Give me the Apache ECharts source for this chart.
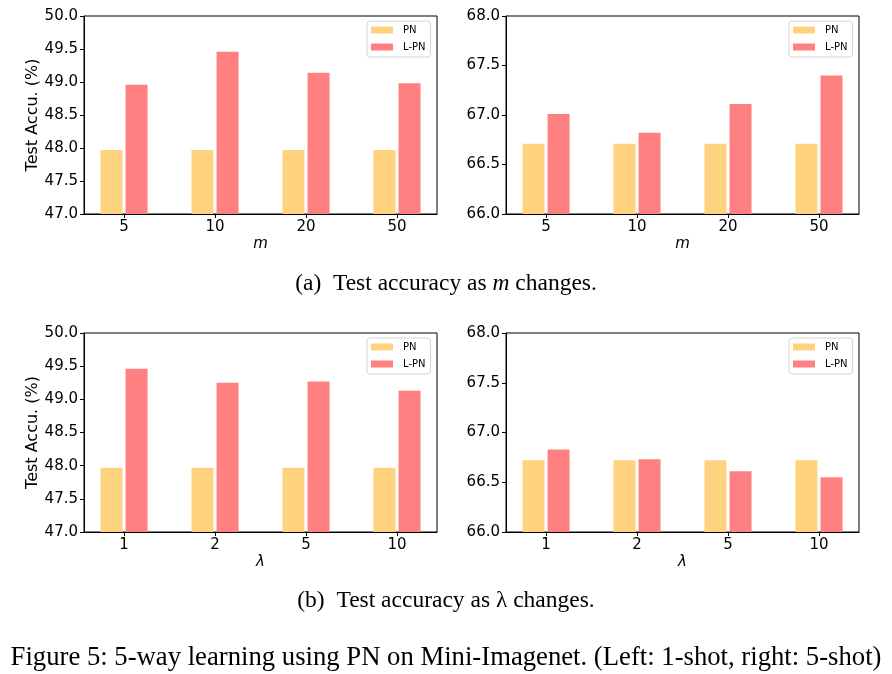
<!DOCTYPE html>
<html>
<head>
<meta charset="utf-8">
<script src="https://cdn.jsdelivr.net/npm/echarts@6/dist/echarts.min.js"></script>
<style>
  html, body { margin: 0; padding: 0; background: #fff; }
  #chart { width: 892px; height: 674px; }
</style>
</head>
<body>
<div id="chart"></div>
<script>
// data
const mCats = ['5', '10', '20', '50']
const lambdaCats = ['1', '2', '5', '10']
const seriesNames = ['PN', 'L-PN']

// (a) m changes
const pnM1shot = [47.97, 47.97, 47.97, 47.97]
const lpnM1shot = [48.96, 49.46, 49.14, 48.98]
const pnM5shot = [66.71, 66.71, 66.71, 66.71]
const lpnM5shot = [67.01, 66.82, 67.11, 67.40]

// (b) lambda changes
const pnL1shot = [47.97, 47.97, 47.97, 47.97]
const lpnL1shot = [49.46, 49.25, 49.27, 49.13]
const pnL5shot = [66.72, 66.72, 66.72, 66.72]
const lpnL5shot = [66.83, 66.73, 66.61, 66.55]

const pnColor = '#ffd280'
const lpnColor = '#ff8080'
const tickFont = 'DejaVu Sans'

var myChart = echarts.init(document.getElementById('chart'))

// panel boxes (pixels)
const panels = [
    { left: 84, top: 16, height: 198, cats: mCats, xname: 'm', ymin: 47, ymax: 50, ylabel: true, pn: pnM1shot, lpn: lpnM1shot },
    { left: 506, top: 16, height: 198, cats: mCats, xname: 'm', ymin: 66, ymax: 68, ylabel: false, pn: pnM5shot, lpn: lpnM5shot },
    { left: 84, top: 333, height: 199, cats: lambdaCats, xname: 'λ', ymin: 47, ymax: 50, ylabel: true, pn: pnL1shot, lpn: lpnL1shot },
    { left: 506, top: 333, height: 199, cats: lambdaCats, xname: 'λ', ymin: 66, ymax: 68, ylabel: false, pn: pnL5shot, lpn: lpnL5shot }
]

const grid = []
const xAxis = []
const yAxis = []
const series = []
const legend = []

panels.forEach((p, i) => {
    grid.push({
        left: p.left, top: p.top, width: 353, height: p.height,
        show: true, borderColor: '#000', borderWidth: 1, backgroundColor: 'transparent'
    })
    xAxis.push({
        type: 'value', gridIndex: i, min: -0.44, max: 3.44, z: 5,
        name: p.xname, nameLocation: 'middle', nameGap: 23,
        nameTextStyle: { fontFamily: tickFont, fontSize: 15, fontStyle: 'italic', color: '#000' },
        splitLine: { show: false },
        axisLine: { show: true, onZero: false, lineStyle: { color: '#000', width: 1 } },
        axisTick: { show: true, inside: false, length: 4, lineStyle: { color: '#000' }, customValues: [0, 1, 2, 3] },
        axisLabel: {
            customValues: [0, 1, 2, 3], margin: 6,
            fontFamily: tickFont, fontSize: 15, color: '#000',
            formatter: v => p.cats[Math.round(v)]
        }
    })
    yAxis.push({
        type: 'value', gridIndex: i, min: p.ymin, max: p.ymax, interval: 0.5, z: 5,
        name: p.ylabel ? 'Test Accu. (%)' : '', nameLocation: 'middle', nameGap: 42,
        nameTextStyle: { fontFamily: tickFont, fontSize: 16, color: '#000' },
        splitLine: { show: false },
        axisLine: { show: true, onZero: false, lineStyle: { color: '#000', width: 1 } },
        axisTick: { show: true, inside: false, length: 4, lineStyle: { color: '#000' } },
        axisLabel: {
            margin: 6, fontFamily: tickFont, fontSize: 15, color: '#000',
            formatter: v => v.toFixed(1)
        }
    })
    series.push({
        name: 'PN', type: 'bar', xAxisIndex: i, yAxisIndex: i,
        barWidth: 22, barGap: '14%', itemStyle: { color: pnColor },
        data: p.pn.map((v, k) => [k, v])
    })
    series.push({
        name: 'L-PN', type: 'bar', xAxisIndex: i, yAxisIndex: i,
        barWidth: 22, barGap: '14%', itemStyle: { color: lpnColor },
        data: p.lpn.map((v, k) => [k, v])
    })
    legend.push({
        data: seriesNames, orient: 'vertical',
        left: p.left + 283, top: p.top + 5,
        icon: 'rect', itemWidth: 22, itemHeight: 7, itemGap: 7,
        padding: [4, 5, 5, 4],
        borderColor: '#d4d4d4', borderWidth: 1, borderRadius: 3,
        backgroundColor: '#fff',
        textStyle: { fontFamily: tickFont, fontSize: 10, color: '#000', padding: [0, 0, 0, 5] }
    })
})

const capStyle = {
    fontFamily: 'Liberation Serif', fontSize: 23.5, fontWeight: 'normal', color: '#000',
    rich: { i: { fontFamily: 'Liberation Serif', fontSize: 23.5, fontStyle: 'italic', color: '#000' } }
}

var option = {
    animation: false,
    color: [pnColor, lpnColor],
    title: [
        { text: '(a)  Test accuracy as {i|m} changes.', left: 'center', top: 267, textStyle: capStyle },
        { text: '(b)  Test accuracy as λ changes.', left: 'center', top: 584, textStyle: capStyle },
        {
            text: 'Figure 5: 5-way learning using PN on Mini-Imagenet. (Left: 1-shot, right: 5-shot)',
            left: 'center', top: 639,
            textStyle: { fontFamily: 'Liberation Serif', fontSize: 26.7, fontWeight: 'normal', color: '#000' }
        }
    ],
    legend: legend,
    grid: grid,
    xAxis: xAxis,
    yAxis: yAxis,
    series: series
}
myChart.setOption(option)
</script>
</body>
</html>
